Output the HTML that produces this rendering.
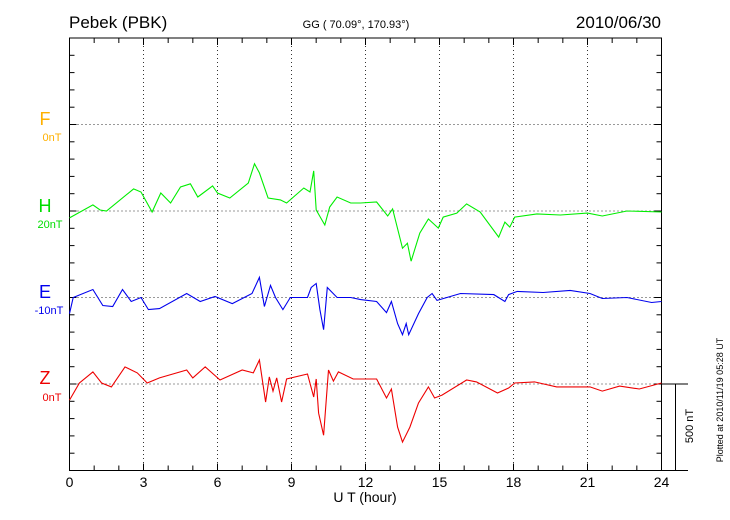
<!DOCTYPE html>
<html><head><meta charset="utf-8"><style>
body{margin:0;background:#fff;}
svg{display:block;font-family:"Liberation Sans",Arial,sans-serif;}
</style></head><body>
<svg id="chart" width="730" height="520" viewBox="0 0 730 520">
<text x="69" y="28" font-size="17">Pebek (PBK)</text>
<text x="356" y="28" font-size="11" text-anchor="middle">GG ( 70.09°, 170.93°)</text>
<text x="661" y="28" font-size="17" text-anchor="end">2010/06/30</text>
<g id="grid"></g>
<g id="axes"></g>
<g id="series"></g>
<text x="45" y="125" font-size="18" fill="#ffb000" text-anchor="middle">F</text>
<text x="52" y="141" font-size="11" fill="#ffb000" text-anchor="middle">0nT</text>
<text x="45" y="212" font-size="18" fill="#00dd00" text-anchor="middle">H</text>
<text x="50" y="228" font-size="11" fill="#00dd00" text-anchor="middle">20nT</text>
<text x="45" y="298" font-size="18" fill="#0000ee" text-anchor="middle">E</text>
<text x="49" y="314" font-size="11" fill="#0000ee" text-anchor="middle">-10nT</text>
<text x="45" y="384" font-size="18" fill="#ee0000" text-anchor="middle">Z</text>
<text x="52" y="401" font-size="11" fill="#ee0000" text-anchor="middle">0nT</text>
<text x="365" y="502" font-size="14" text-anchor="middle">U T (hour)</text>
<text transform="translate(693,426) rotate(-90)" font-size="11" text-anchor="middle">500 nT</text>
<text transform="translate(723,400) rotate(-90)" font-size="9" text-anchor="middle">Plotted at 2010/11/19 05:28 UT</text>
</svg>
<script>
const xTicks=[0,3,6,9,12,15,18,21,24];
const hT=[0,0.95,1.24,1.5,2.6,2.9,3.35,3.7,4.1,4.5,4.9,5.2,5.8,6.0,6.5,7.25,7.5,7.7,8.05,8.55,8.8,9.5,9.75,9.9,10.0,10.35,10.55,10.85,11.4,11.8,12.45,12.9,13.1,13.5,13.7,13.85,14.2,14.55,14.95,15.15,15.7,16.1,16.65,17.4,17.65,17.85,18.05,18.95,19.9,21,21.6,22.6,24];
const hV=[-40,35,6,0,128,110,-6,104,46,139,157,81,145,104,75,162,273,220,75,64,46,133,110,232,6,-81,23,81,46,46,52,-29,12,-215,-186,-290,-128,-46,-99,-35,-12,41,-6,-151,-64,-93,-35,-17,-23,-12,-29,0,-6];
const eT=[0,0.15,0.95,1.35,1.75,2.15,2.5,2.9,3.2,3.65,4.75,5.3,5.9,6.6,7.4,7.7,7.9,8.15,8.35,8.65,8.95,9.65,9.8,10.0,10.15,10.3,10.45,10.85,11.4,11.8,12.45,12.85,13.05,13.3,13.5,13.65,13.75,14.15,14.5,14.7,14.9,15.85,17.2,17.65,17.8,18.15,19.2,20.3,21.1,21.6,22.6,23.6,24];
const eV=[-93,0,46,-46,-52,46,-23,0,-70,-64,23,-23,6,-35,23,116,-52,70,0,-70,0,0,58,81,-70,-186,58,0,0,-12,-23,-87,-23,-151,-215,-151,-215,-93,0,23,-17,23,17,-23,17,35,29,41,23,-6,0,-29,-23];
const zT=[0,0.4,0.95,1.3,1.7,2.25,2.75,3.15,3.65,4.75,5.0,5.5,6.1,7.0,7.45,7.7,7.95,8.1,8.25,8.4,8.6,8.8,9.65,9.9,10.0,10.1,10.3,10.5,10.7,10.9,11.5,11.8,12.45,12.85,13.05,13.3,13.5,13.8,14.15,14.55,14.8,15.1,16.1,16.5,17.35,17.8,18.05,18.85,19.75,21.1,21.6,22.3,23.1,24];
const zV=[-93,6,70,6,-17,99,64,6,35,81,35,99,23,81,64,139,-104,41,-41,35,-104,29,58,-75,29,-168,-296,81,17,70,29,29,29,-81,-29,-249,-336,-249,-110,-17,-81,-64,23,12,-52,-23,6,12,-17,-17,-41,-12,-29,6];
const X0=69.5,X1=661.5,Y0=38,Y1=470.5,ROW=86.5;
const NS="http://www.w3.org/2000/svg";
function xs(t){return X0+(X1-X0)*t/24;}
function ys(base,v){return base-v*ROW/500;}
function mk(tag,attrs,parent){const e=document.createElementNS(NS,tag);for(const k in attrs)e.setAttribute(k,attrs[k]);parent.appendChild(e);return e;}
const grid=document.getElementById('grid'),axes=document.getElementById('axes'),ser=document.getElementById('series');
// horizontal dotted baselines
for(let i=1;i<=4;i++){const y=Y0+ROW*i;
 const l=mk('line',{x1:X0,x2:X1,y1:y,y2:y,stroke:'#333','stroke-width':1,'stroke-dasharray':'1,3'},grid);
 
 }
xTicks.forEach((t,i)=>{const x=xs(t);
 if(i>0&&i<xTicks.length-1){const l=mk('line',{x1:x,x2:x,y1:Y0,y2:Y1,stroke:'#333','stroke-width':1,'stroke-dasharray':'1,3'},grid);
 
 }
 const tx=mk('text',{x:x,y:487,'font-size':14,'text-anchor':'middle'},axes);tx.textContent=t;
 
 
});
// frame
const fr=mk('rect',{x:X0,y:Y0,width:X1-X0,height:Y1-Y0,fill:'none',stroke:'#000','stroke-width':1},axes);


// x minor ticks
for(let h=0;h<=24;h++){const x=xs(h),L=(h%3==0)?7:5;
 mk('line',{x1:x,x2:x,y1:Y1,y2:Y1-L,stroke:'#000'},axes);
 mk('line',{x1:x,x2:x,y1:Y0,y2:Y0+L,stroke:'#000'},axes);}
// y ticks
for(let k=0;k<=25;k++){const y=Y0+ROW/5*k,L=(k%5==0)?7:5;
 mk('line',{x1:X0,x2:X0+L,y1:y,y2:y,stroke:'#000'},axes);
 mk('line',{x1:X1,x2:X1-L,y1:y,y2:y,stroke:'#000'},axes);}
// scale bar
const sb=mk('path',{d:`M${X1} ${Y0+ROW*4}H688M${X1} ${Y1}H688M675.5 ${Y0+ROW*4}V${Y1}`,stroke:'#000',fill:'none'},axes);


function draw(T,V,base,color,name){
 const pts=T.map((t,i)=>xs(t).toFixed(1)+','+ys(base,V[i]).toFixed(1)).join(' ');
 const p=mk('polyline',{points:pts,fill:'none',stroke:color,'stroke-width':1.1},ser);
 
 }
draw(hT,hV,Y0+ROW*2,'#00ee00','h-series-line');
draw(eT,eV,Y0+ROW*3,'#0000ee','e-series-line');
draw(zT,zV,Y0+ROW*4,'#ee0000','z-series-line');
</script>
</body></html>
